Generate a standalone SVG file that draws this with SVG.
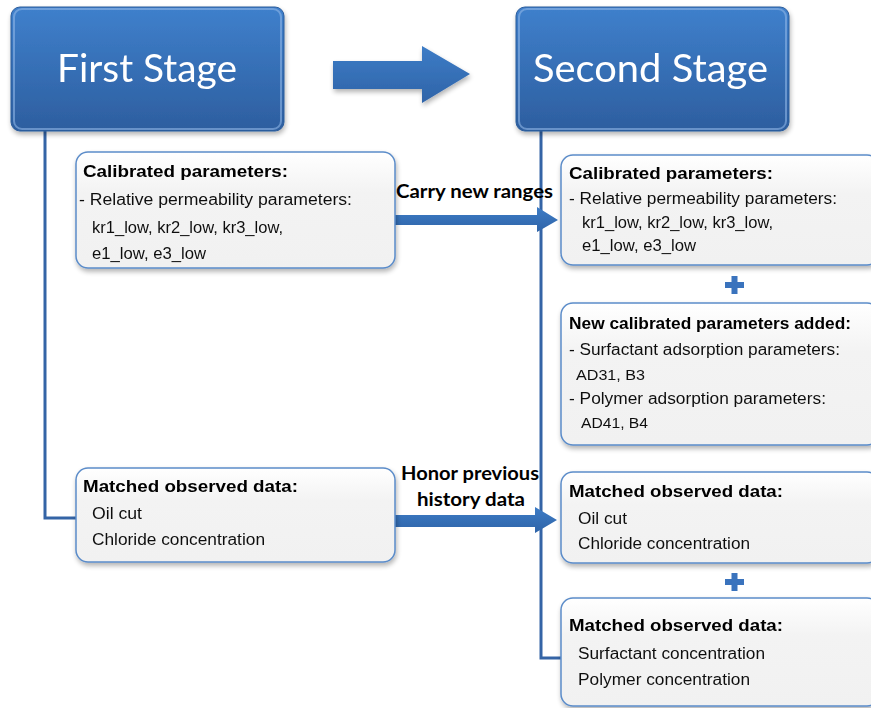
<svg xmlns="http://www.w3.org/2000/svg" width="871" height="708" viewBox="0 0 871 708">
  <defs>
    <linearGradient id="stageFill" x1="0" y1="0" x2="0" y2="1">
      <stop offset="0" stop-color="#3f80cc"/>
      <stop offset="1" stop-color="#2d5e9f"/>
    </linearGradient>
    <linearGradient id="boxFill" x1="0" y1="0" x2="0" y2="1">
      <stop offset="0" stop-color="#ffffff"/>
      <stop offset="0.35" stop-color="#f3f3f3"/>
      <stop offset="1" stop-color="#f1f1f1"/>
    </linearGradient>
    <linearGradient id="arrowFill" x1="0" y1="0" x2="0" y2="1">
      <stop offset="0" stop-color="#3d7cc6"/>
      <stop offset="1" stop-color="#2f64a8"/>
    </linearGradient>
    <filter id="shadow" x="-10%" y="-10%" width="120%" height="130%">
      <feGaussianBlur in="SourceAlpha" stdDeviation="2.5"/>
      <feOffset dx="1" dy="3" result="b"/>
      <feComponentTransfer><feFuncA type="linear" slope="0.3"/></feComponentTransfer>
      <feMerge><feMergeNode/><feMergeNode in="SourceGraphic"/></feMerge>
    </filter>
  </defs>
  <style>
    .stage { fill: url(#stageFill); stroke: #2b5c9b; stroke-width: 1; }
    .stageHi { fill: none; stroke: #8fb6e6; stroke-width: 2; opacity: 0.6; }
    .stageText { font-family: Lato, "Open Sans", sans-serif; font-size: 39px; fill: #ffffff; }
    .box { fill: url(#boxFill); stroke: #5b8cc9; stroke-width: 1.5; }
    .title { font-family: "Liberation Sans", Arial, sans-serif; font-size: 17px; font-weight: bold; fill: #000; }
    .body { font-family: "Liberation Sans", Arial, sans-serif; font-size: 16px; fill: #111; }
    .small { font-family: "Liberation Sans", Arial, sans-serif; font-size: 14.5px; fill: #111; }
    .trunk { fill: none; stroke: #3464a6; stroke-width: 3; }
    .arrow { fill: url(#arrowFill); }
    .label { font-family: Lato, "Open Sans", sans-serif; font-size: 19px; font-weight: bold; fill: #000; }
    .plus { fill: #3a73bd; }
  </style>

  <!-- trunks linking each stage to its boxes -->
  <g id="connectors">
    <polyline class="trunk" points="45,131 45,518 78,518"/>
    <polyline class="trunk" points="541,131 541,658 563,658"/>
    <!-- stage-to-stage block arrow -->
    <polygon class="arrow" filter="url(#shadow)" points="333,61 422,61 422,46 470,74 422,103 422,89 333,89"/>
    <!-- carry arrow -->
    <polygon class="arrow" points="395,215 537,215 537,207 558,220 537,232 537,225 395,225"/>
    <text class="label" x="396" y="198" textLength="157" lengthAdjust="spacingAndGlyphs">Carry new ranges</text>
    <!-- honor arrow -->
    <polygon class="arrow" points="395,515 535,515 535,507 557,520 535,533 535,527 395,527"/>
    <text class="label" x="401" y="480" textLength="138" lengthAdjust="spacingAndGlyphs">Honor previous</text>
    <text class="label" x="417" y="506" textLength="108" lengthAdjust="spacingAndGlyphs">history data</text>
  </g>

  <g id="first-stage" filter="url(#shadow)">
    <rect class="stage" x="11" y="7" width="273" height="124" rx="9"/>
    <rect class="stageHi" x="14" y="9" width="267" height="120" rx="8"/>
    <text class="stageText" x="57" y="82" textLength="180" lengthAdjust="spacingAndGlyphs">First Stage</text>
  </g>

  <g id="second-stage" filter="url(#shadow)">
    <rect class="stage" x="516" y="7" width="273" height="124" rx="9"/>
    <rect class="stageHi" x="519" y="9" width="267" height="120" rx="8"/>
    <text class="stageText" x="533" y="82" textLength="235" lengthAdjust="spacingAndGlyphs">Second Stage</text>
  </g>

  <g id="first-calibrated" filter="url(#shadow)">
    <rect class="box" x="76" y="152" width="319" height="116" rx="12"/>
    <text class="title" x="83" y="177" textLength="205" lengthAdjust="spacingAndGlyphs">Calibrated parameters:</text>
    <text class="body" x="79" y="205" textLength="273" lengthAdjust="spacingAndGlyphs">- Relative permeability  parameters:</text>
    <text class="body" x="92" y="233" textLength="191" lengthAdjust="spacingAndGlyphs">kr1_low,  kr2_low,  kr3_low,</text>
    <text class="body" x="92" y="259" textLength="114" lengthAdjust="spacingAndGlyphs">e1_low,  e3_low</text>
  </g>

  <g id="first-matched" filter="url(#shadow)">
    <rect class="box" x="76" y="468" width="319" height="94" rx="12"/>
    <text class="title" x="83" y="492" textLength="215" lengthAdjust="spacingAndGlyphs">Matched observed data:</text>
    <text class="body" x="92" y="519" textLength="50" lengthAdjust="spacingAndGlyphs">Oil cut</text>
    <text class="body" x="92" y="545" textLength="173" lengthAdjust="spacingAndGlyphs">Chloride  concentration</text>
  </g>

  <g id="second-calibrated" filter="url(#shadow)">
    <rect class="box" x="561" y="155" width="318" height="110" rx="12"/>
    <text class="title" x="569" y="179" textLength="204" lengthAdjust="spacingAndGlyphs">Calibrated parameters:</text>
    <text class="body" x="569" y="204" textLength="268" lengthAdjust="spacingAndGlyphs">- Relative permeability  parameters:</text>
    <text class="body" x="582" y="228" textLength="191" lengthAdjust="spacingAndGlyphs">kr1_low,  kr2_low,  kr3_low,</text>
    <text class="body" x="582" y="251" textLength="114" lengthAdjust="spacingAndGlyphs">e1_low,  e3_low</text>
  </g>

  <g id="plus-1">
    <rect class="plus" x="725" y="282" width="19" height="6"/>
    <rect class="plus" x="731.5" y="276" width="6" height="18"/>
  </g>

  <g id="second-new-params" filter="url(#shadow)">
    <rect class="box" x="561" y="303" width="318" height="142" rx="12"/>
    <text class="title" x="569" y="329" textLength="282" lengthAdjust="spacingAndGlyphs">New calibrated parameters added:</text>
    <text class="body" x="569" y="355" textLength="271" lengthAdjust="spacingAndGlyphs">- Surfactant adsorption parameters:</text>
    <text class="small" x="576" y="380" textLength="69" lengthAdjust="spacingAndGlyphs">AD31, B3</text>
    <text class="body" x="569" y="404" textLength="257" lengthAdjust="spacingAndGlyphs">- Polymer adsorption parameters:</text>
    <text class="small" x="581" y="428" textLength="67" lengthAdjust="spacingAndGlyphs">AD41, B4</text>
  </g>

  <g id="second-matched" filter="url(#shadow)">
    <rect class="box" x="561" y="472" width="318" height="91" rx="12"/>
    <text class="title" x="569" y="497" textLength="214" lengthAdjust="spacingAndGlyphs">Matched observed data:</text>
    <text class="body" x="578" y="524" textLength="49" lengthAdjust="spacingAndGlyphs">Oil cut</text>
    <text class="body" x="578" y="549" textLength="172" lengthAdjust="spacingAndGlyphs">Chloride  concentration</text>
  </g>

  <g id="plus-2">
    <rect class="plus" x="725" y="579" width="19" height="6"/>
    <rect class="plus" x="731.5" y="573" width="6" height="18"/>
  </g>

  <g id="second-matched-new" filter="url(#shadow)">
    <rect class="box" x="561" y="598" width="318" height="108" rx="12"/>
    <text class="title" x="569" y="631" textLength="214" lengthAdjust="spacingAndGlyphs">Matched observed data:</text>
    <text class="body" x="578" y="659" textLength="187" lengthAdjust="spacingAndGlyphs">Surfactant concentration</text>
    <text class="body" x="578" y="685" textLength="172" lengthAdjust="spacingAndGlyphs">Polymer  concentration</text>
  </g>
</svg>
